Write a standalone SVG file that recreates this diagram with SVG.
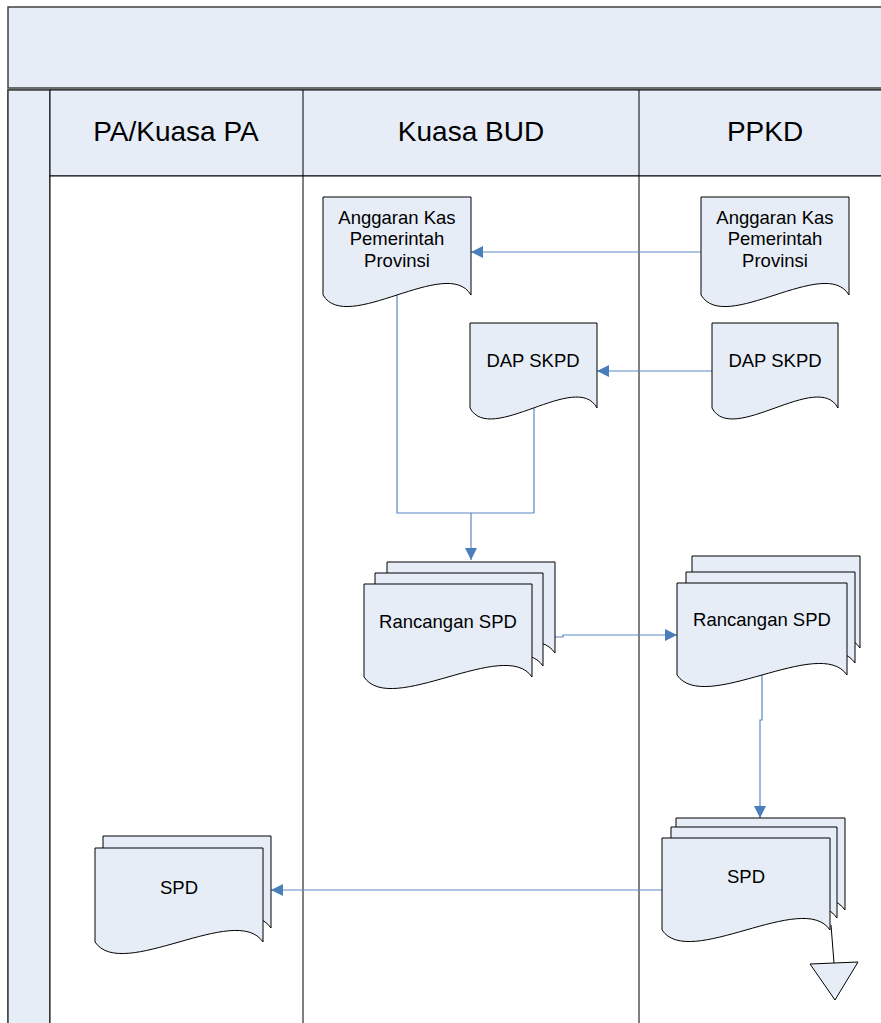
<svg xmlns="http://www.w3.org/2000/svg" width="881" height="1023" viewBox="0 0 881 1023">
  <style>
    .band { fill: #e6edf7; stroke: #404040; stroke-width: 1.5; }
    .lane { fill: none; stroke: #000; stroke-width: 1; }
    .hdr { font-family: "Liberation Sans", Arial, sans-serif; font-size: 28px; fill: #000; text-anchor: middle; }
    .doc { fill: #e6edf7; stroke: #000; stroke-width: 1; }
    .lbl { font-family: "Liberation Sans", Arial, sans-serif; font-size: 18.5px; fill: #000; text-anchor: middle; }
    .flow { fill: none; stroke: #5b88c6; stroke-width: 1.2; }
    .end { fill: #e6edf7; stroke: #000; stroke-width: 1; }
  </style>
  <defs>
    <marker id="arrow" markerUnits="userSpaceOnUse" markerWidth="12" markerHeight="12" refX="12" refY="6" orient="auto">
      <path d="M0,0 L12,6 L0,12 z" fill="#4a7ebb"/>
    </marker>
  </defs>

  <!-- pool frame -->
  <g id="pool">
    <rect class="band" x="8" y="7" width="880" height="81"/>
    <rect class="band" x="8" y="90" width="880" height="940"/>
    <rect class="band" x="8" y="90" width="42" height="940"/>
    <rect x="50" y="90" width="838" height="86" fill="#e6edf7" stroke="#000" stroke-width="1"/>
    <rect x="50" y="176" width="838" height="860" fill="#fff" stroke="#000" stroke-width="1"/>
    <line class="lane" x1="303" y1="90" x2="303" y2="1023"/>
    <line class="lane" x1="639" y1="90" x2="639" y2="1023"/>
    <text class="hdr" x="176" y="141">PA/Kuasa PA</text>
    <text class="hdr" x="471" y="141">Kuasa BUD</text>
    <text class="hdr" x="765" y="141">PPKD</text>
  </g>

  <!-- connectors -->
  <g id="connectors">
    <path class="flow" d="M701,252 H471" marker-end="url(#arrow)"/>
    <path class="flow" d="M712,371 H597" marker-end="url(#arrow)"/>
    <path class="flow" d="M397,290 V513 H534 V400"/>
    <path class="flow" d="M471,513 V560" marker-end="url(#arrow)"/>
    <path class="flow" d="M540,637 H563 V635 H677" marker-end="url(#arrow)"/>
    <path class="flow" d="M762,670 V720 H760 V818" marker-end="url(#arrow)"/>
    <path class="flow" d="M662,890 H271" marker-end="url(#arrow)"/>
    <path d="M831,925 L834,963" stroke="#000" stroke-width="1" fill="none"/>
  </g>

  <!-- Kuasa BUD lane -->
  <g id="akpp-bud">
    <path class="doc" d="M323,197 h148 v98 c-23.7,-40 -124.3,40 -148,0 z"/>
    <text class="lbl" x="397" y="223.5">Anggaran Kas</text>
    <text class="lbl" x="397" y="245">Pemerintah</text>
    <text class="lbl" x="397" y="266.5">Provinsi</text>
  </g>
  <g id="dap-bud">
    <path class="doc" d="M470,323 h127 v85 c-20.3,-38 -106.7,38 -127,0 z"/>
    <text class="lbl" x="533" y="366.5">DAP SKPD</text>
  </g>
  <g id="rancangan-bud">
    <path class="doc" d="M387,562 h168 v91 c-26.9,-40 -141.1,40 -168,0 z"/>
    <path class="doc" d="M375,573 h168 v93 c-26.9,-40 -141.1,40 -168,0 z"/>
    <path class="doc" d="M364,584 h168 v93 c-26.9,-40 -141.1,40 -168,0 z"/>
    <text class="lbl" x="448" y="628">Rancangan SPD</text>
  </g>

  <!-- PPKD lane -->
  <g id="akpp-ppkd">
    <path class="doc" d="M701,197 h148 v98 c-23.7,-40 -124.3,40 -148,0 z"/>
    <text class="lbl" x="775" y="223.5">Anggaran Kas</text>
    <text class="lbl" x="775" y="245">Pemerintah</text>
    <text class="lbl" x="775" y="266.5">Provinsi</text>
  </g>
  <g id="dap-ppkd">
    <path class="doc" d="M712,323 h126 v85 c-20.2,-38 -105.8,38 -126,0 z"/>
    <text class="lbl" x="775" y="366.5">DAP SKPD</text>
  </g>
  <g id="rancangan-ppkd">
    <path class="doc" d="M692,556 h168 v92 c-26.9,-40 -141.1,40 -168,0 z"/>
    <path class="doc" d="M686,572 h169 v91 c-27,-40 -142,40 -169,0 z"/>
    <path class="doc" d="M677,583 h170 v92 c-27.2,-40 -142.8,40 -170,0 z"/>
    <text class="lbl" x="762" y="626">Rancangan SPD</text>
  </g>
  <g id="spd-ppkd">
    <path class="doc" d="M676,818 h169 v92 c-27,-40 -142,40 -169,0 z"/>
    <path class="doc" d="M671,827 h166 v91 c-26.6,-40 -139.4,40 -166,0 z"/>
    <path class="doc" d="M662,838 h168 v92 c-26.9,-40 -141.1,40 -168,0 z"/>
    <text class="lbl" x="746" y="883">SPD</text>
  </g>
  <g id="off-page">
    <path class="end" d="M810,964 L858,962 L835,1000 z"/>
  </g>

  <!-- PA/Kuasa PA lane -->
  <g id="spd-pa">
    <path class="doc" d="M103,836 h168 v92 c-26.9,-40 -141.1,40 -168,0 z"/>
    <path class="doc" d="M95,848 h168 v94 c-26.9,-40 -141.1,40 -168,0 z"/>
    <text class="lbl" x="179" y="894">SPD</text>
  </g>
</svg>
